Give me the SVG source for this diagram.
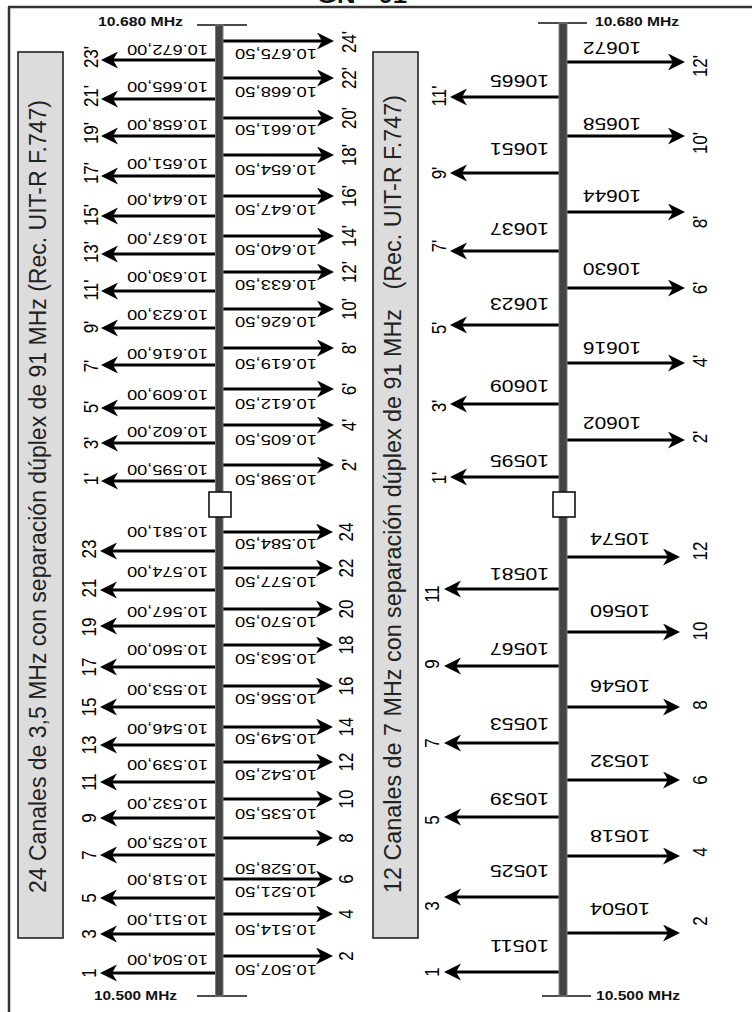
<svg xmlns="http://www.w3.org/2000/svg" width="752" height="1012" viewBox="0 0 752 1012">
<style>
.arr{stroke:#000;stroke-width:3;fill:none;marker-end:url(#ah)}
.fl{font-family:"Liberation Sans",Arial,sans-serif;font-size:15px;fill:#000}
.fr{font-family:"Liberation Sans",Arial,sans-serif;font-size:17px;fill:#000}
.ch{font-family:"Liberation Sans",Arial,sans-serif;font-size:17px;fill:#000;text-anchor:middle}
.ax{font-family:"Liberation Sans",Arial,sans-serif;font-size:12.5px;font-weight:bold;fill:#111}
.tt{font-family:"Liberation Sans",Arial,sans-serif;font-size:23px;fill:#222}
.bar{fill:#444;stroke:#7a7a7a;stroke-width:1}
.tick{stroke:#111;stroke-width:1.6}
.sq{fill:#fff;stroke:#111;stroke-width:1.6}
.tbox{fill:#dcdcdc;stroke:#222;stroke-width:1.6}
</style>
<defs>
<marker id="ah" markerUnits="userSpaceOnUse" viewBox="0 0 20 20" markerWidth="20" markerHeight="20" refX="9" refY="8.5" orient="auto">
<path d="M0,0 L17,8.5 L0,17 L5,8.5 Z" fill="#000"/>
</marker>
</defs>
<rect width="752" height="1012" fill="#fff"/>
<g id="frame">
<line x1="8" y1="7" x2="752" y2="7" stroke="#333" stroke-width="2.5"/>
<line x1="9" y1="7" x2="9" y2="1012" stroke="#333" stroke-width="2.5"/>
<text x="317" y="3" class="ax" style="font-size:22px" textLength="90" lengthAdjust="spacingAndGlyphs">GN - 01</text>
</g>
<g id="title-left">
<rect class="tbox" x="18" y="52" width="45" height="886"/>
<text class="tt" transform="translate(46,893) rotate(-90)" textLength="793" lengthAdjust="spacingAndGlyphs">24 Canales de 3,5 MHz con separación dúplex de 91 MHz (Rec. UIT-R F.747)</text>
</g>
<g id="title-right">
<rect class="tbox" x="373" y="52" width="45" height="886"/>
<text class="tt" xml:space="preserve" transform="translate(401,893) rotate(-90)" textLength="798" lengthAdjust="spacingAndGlyphs">12 Canales de 7 MHz con separación dúplex de 91 MHz   (Rec. UIT-R F.747)</text>
</g>
<g id="connectors">
<line class="arr" x1="219" y1="41" x2="326" y2="41"/>
<line class="arr" x1="219" y1="78" x2="326" y2="78"/>
<line class="arr" x1="219" y1="118" x2="326" y2="118"/>
<line class="arr" x1="219" y1="155" x2="326" y2="155"/>
<line class="arr" x1="219" y1="196" x2="326" y2="196"/>
<line class="arr" x1="219" y1="236" x2="326" y2="236"/>
<line class="arr" x1="219" y1="272" x2="326" y2="272"/>
<line class="arr" x1="219" y1="309" x2="326" y2="309"/>
<line class="arr" x1="219" y1="348" x2="326" y2="348"/>
<line class="arr" x1="219" y1="389" x2="326" y2="389"/>
<line class="arr" x1="219" y1="425" x2="326" y2="425"/>
<line class="arr" x1="219" y1="465" x2="326" y2="465"/>
<line class="arr" x1="219" y1="60" x2="109" y2="60"/>
<line class="arr" x1="219" y1="99" x2="109" y2="99"/>
<line class="arr" x1="219" y1="136" x2="109" y2="136"/>
<line class="arr" x1="219" y1="176" x2="109" y2="176"/>
<line class="arr" x1="219" y1="216" x2="109" y2="216"/>
<line class="arr" x1="219" y1="254" x2="109" y2="254"/>
<line class="arr" x1="219" y1="291" x2="109" y2="291"/>
<line class="arr" x1="219" y1="328" x2="109" y2="328"/>
<line class="arr" x1="219" y1="365" x2="109" y2="365"/>
<line class="arr" x1="219" y1="408" x2="109" y2="408"/>
<line class="arr" x1="219" y1="443" x2="109" y2="443"/>
<line class="arr" x1="219" y1="481" x2="109" y2="481"/>
<line class="arr" x1="219" y1="532" x2="325" y2="532"/>
<line class="arr" x1="219" y1="568" x2="325" y2="568"/>
<line class="arr" x1="219" y1="609" x2="325" y2="609"/>
<line class="arr" x1="219" y1="645" x2="325" y2="645"/>
<line class="arr" x1="219" y1="686" x2="325" y2="686"/>
<line class="arr" x1="219" y1="727" x2="325" y2="727"/>
<line class="arr" x1="219" y1="762" x2="325" y2="762"/>
<line class="arr" x1="219" y1="799" x2="325" y2="799"/>
<line class="arr" x1="219" y1="838" x2="325" y2="838"/>
<line class="arr" x1="219" y1="879" x2="325" y2="879"/>
<line class="arr" x1="219" y1="914" x2="325" y2="914"/>
<line class="arr" x1="219" y1="956" x2="325" y2="956"/>
<line class="arr" x1="219" y1="551" x2="108" y2="551"/>
<line class="arr" x1="219" y1="590" x2="108" y2="590"/>
<line class="arr" x1="219" y1="626" x2="108" y2="626"/>
<line class="arr" x1="219" y1="667" x2="108" y2="667"/>
<line class="arr" x1="219" y1="707" x2="108" y2="707"/>
<line class="arr" x1="219" y1="745" x2="108" y2="745"/>
<line class="arr" x1="219" y1="782" x2="108" y2="782"/>
<line class="arr" x1="219" y1="818" x2="108" y2="818"/>
<line class="arr" x1="219" y1="855" x2="108" y2="855"/>
<line class="arr" x1="219" y1="898" x2="108" y2="898"/>
<line class="arr" x1="219" y1="934" x2="108" y2="934"/>
<line class="arr" x1="219" y1="973" x2="108" y2="973"/>
<line class="arr" x1="563" y1="62" x2="677" y2="62"/>
<line class="arr" x1="563" y1="136" x2="677" y2="136"/>
<line class="arr" x1="563" y1="212" x2="677" y2="212"/>
<line class="arr" x1="563" y1="288" x2="677" y2="288"/>
<line class="arr" x1="563" y1="363" x2="677" y2="363"/>
<line class="arr" x1="563" y1="440" x2="677" y2="440"/>
<line class="arr" x1="563" y1="97" x2="458" y2="97"/>
<line class="arr" x1="563" y1="173" x2="458" y2="173"/>
<line class="arr" x1="563" y1="251" x2="458" y2="251"/>
<line class="arr" x1="563" y1="325" x2="458" y2="325"/>
<line class="arr" x1="563" y1="404" x2="458" y2="404"/>
<line class="arr" x1="563" y1="477" x2="458" y2="477"/>
<line class="arr" x1="563" y1="557" x2="672" y2="557"/>
<line class="arr" x1="563" y1="632" x2="672" y2="632"/>
<line class="arr" x1="563" y1="707" x2="672" y2="707"/>
<line class="arr" x1="563" y1="780" x2="672" y2="780"/>
<line class="arr" x1="563" y1="856" x2="672" y2="856"/>
<line class="arr" x1="563" y1="933" x2="672" y2="933"/>
<line class="arr" x1="563" y1="589" x2="452" y2="589"/>
<line class="arr" x1="563" y1="666" x2="452" y2="666"/>
<line class="arr" x1="563" y1="743" x2="452" y2="743"/>
<line class="arr" x1="563" y1="817" x2="452" y2="817"/>
<line class="arr" x1="563" y1="897" x2="452" y2="897"/>
<line class="arr" x1="563" y1="972" x2="452" y2="972"/>
</g>
<g id="axis-left">
<line class="tick" x1="197" y1="25" x2="247" y2="25"/>
<line class="tick" x1="197" y1="996" x2="247" y2="996"/>
<rect class="bar" x="215.5" y="25" width="7.5" height="971"/>
<rect class="sq" x="209" y="492" width="22" height="25"/>
<text class="ax" x="98" y="26" textLength="85" lengthAdjust="spacingAndGlyphs">10.680 MHz</text>
<text class="ax" x="94" y="1000" textLength="83" lengthAdjust="spacingAndGlyphs">10.500 MHz</text>
</g>
<g id="axis-right">
<line class="tick" x1="538" y1="23" x2="587" y2="23"/>
<line class="tick" x1="542" y1="996" x2="591" y2="996"/>
<rect class="bar" x="559" y="23" width="8" height="973"/>
<rect class="sq" x="553" y="492" width="22" height="25"/>
<text class="ax" x="595" y="26" textLength="84" lengthAdjust="spacingAndGlyphs">10.680 MHz</text>
<text class="ax" x="596" y="1000" textLength="84" lengthAdjust="spacingAndGlyphs">10.500 MHz</text>
</g>
<g id="freq-left">
<text class="fl" x="317" y="49" transform="rotate(180 317 49)" textLength="82" lengthAdjust="spacingAndGlyphs">10.675,50</text>
<text class="fl" x="317" y="87" transform="rotate(180 317 87)" textLength="82" lengthAdjust="spacingAndGlyphs">10.668,50</text>
<text class="fl" x="317" y="125" transform="rotate(180 317 125)" textLength="82" lengthAdjust="spacingAndGlyphs">10.661,50</text>
<text class="fl" x="317" y="165" transform="rotate(180 317 165)" textLength="82" lengthAdjust="spacingAndGlyphs">10.654,50</text>
<text class="fl" x="317" y="205" transform="rotate(180 317 205)" textLength="82" lengthAdjust="spacingAndGlyphs">10.647,50</text>
<text class="fl" x="317" y="245" transform="rotate(180 317 245)" textLength="82" lengthAdjust="spacingAndGlyphs">10.640,50</text>
<text class="fl" x="317" y="280" transform="rotate(180 317 280)" textLength="82" lengthAdjust="spacingAndGlyphs">10.633,50</text>
<text class="fl" x="317" y="317" transform="rotate(180 317 317)" textLength="82" lengthAdjust="spacingAndGlyphs">10.626,50</text>
<text class="fl" x="317" y="359" transform="rotate(180 317 359)" textLength="82" lengthAdjust="spacingAndGlyphs">10.619,50</text>
<text class="fl" x="317" y="399" transform="rotate(180 317 399)" textLength="82" lengthAdjust="spacingAndGlyphs">10.612,50</text>
<text class="fl" x="317" y="435" transform="rotate(180 317 435)" textLength="82" lengthAdjust="spacingAndGlyphs">10.605,50</text>
<text class="fl" x="317" y="475" transform="rotate(180 317 475)" textLength="82" lengthAdjust="spacingAndGlyphs">10.598,50</text>
<text class="fl" x="208" y="45" transform="rotate(180 208 45)" textLength="81" lengthAdjust="spacingAndGlyphs">10.672,00</text>
<text class="fl" x="208" y="82" transform="rotate(180 208 82)" textLength="81" lengthAdjust="spacingAndGlyphs">10.665,00</text>
<text class="fl" x="208" y="120" transform="rotate(180 208 120)" textLength="81" lengthAdjust="spacingAndGlyphs">10.658,00</text>
<text class="fl" x="208" y="159" transform="rotate(180 208 159)" textLength="81" lengthAdjust="spacingAndGlyphs">10.651,00</text>
<text class="fl" x="208" y="195" transform="rotate(180 208 195)" textLength="81" lengthAdjust="spacingAndGlyphs">10.644,00</text>
<text class="fl" x="208" y="234" transform="rotate(180 208 234)" textLength="81" lengthAdjust="spacingAndGlyphs">10.637,00</text>
<text class="fl" x="208" y="272" transform="rotate(180 208 272)" textLength="81" lengthAdjust="spacingAndGlyphs">10.630,00</text>
<text class="fl" x="208" y="310" transform="rotate(180 208 310)" textLength="81" lengthAdjust="spacingAndGlyphs">10.623,00</text>
<text class="fl" x="208" y="349" transform="rotate(180 208 349)" textLength="81" lengthAdjust="spacingAndGlyphs">10.616,00</text>
<text class="fl" x="208" y="390" transform="rotate(180 208 390)" textLength="81" lengthAdjust="spacingAndGlyphs">10.609,00</text>
<text class="fl" x="208" y="427" transform="rotate(180 208 427)" textLength="81" lengthAdjust="spacingAndGlyphs">10.602,00</text>
<text class="fl" x="208" y="465" transform="rotate(180 208 465)" textLength="81" lengthAdjust="spacingAndGlyphs">10.595,00</text>
<text class="fl" x="317" y="539" transform="rotate(180 317 539)" textLength="82" lengthAdjust="spacingAndGlyphs">10.584,50</text>
<text class="fl" x="317" y="577" transform="rotate(180 317 577)" textLength="82" lengthAdjust="spacingAndGlyphs">10.577,50</text>
<text class="fl" x="317" y="617" transform="rotate(180 317 617)" textLength="82" lengthAdjust="spacingAndGlyphs">10.570,50</text>
<text class="fl" x="317" y="654" transform="rotate(180 317 654)" textLength="82" lengthAdjust="spacingAndGlyphs">10.563,50</text>
<text class="fl" x="317" y="694" transform="rotate(180 317 694)" textLength="82" lengthAdjust="spacingAndGlyphs">10.556,50</text>
<text class="fl" x="317" y="734" transform="rotate(180 317 734)" textLength="82" lengthAdjust="spacingAndGlyphs">10.549,50</text>
<text class="fl" x="317" y="770" transform="rotate(180 317 770)" textLength="82" lengthAdjust="spacingAndGlyphs">10.542,50</text>
<text class="fl" x="317" y="809" transform="rotate(180 317 809)" textLength="82" lengthAdjust="spacingAndGlyphs">10.535,50</text>
<text class="fl" x="317" y="864" transform="rotate(180 317 864)" textLength="82" lengthAdjust="spacingAndGlyphs">10.528,50</text>
<text class="fl" x="317" y="887" transform="rotate(180 317 887)" textLength="82" lengthAdjust="spacingAndGlyphs">10.521,50</text>
<text class="fl" x="317" y="925" transform="rotate(180 317 925)" textLength="82" lengthAdjust="spacingAndGlyphs">10.514,50</text>
<text class="fl" x="317" y="965" transform="rotate(180 317 965)" textLength="82" lengthAdjust="spacingAndGlyphs">10.507,50</text>
<text class="fl" x="208" y="527" transform="rotate(180 208 527)" textLength="81" lengthAdjust="spacingAndGlyphs">10.581,00</text>
<text class="fl" x="208" y="567" transform="rotate(180 208 567)" textLength="81" lengthAdjust="spacingAndGlyphs">10.574,00</text>
<text class="fl" x="208" y="607" transform="rotate(180 208 607)" textLength="81" lengthAdjust="spacingAndGlyphs">10.567,00</text>
<text class="fl" x="208" y="645" transform="rotate(180 208 645)" textLength="81" lengthAdjust="spacingAndGlyphs">10.560,00</text>
<text class="fl" x="208" y="685" transform="rotate(180 208 685)" textLength="81" lengthAdjust="spacingAndGlyphs">10.553,00</text>
<text class="fl" x="208" y="724" transform="rotate(180 208 724)" textLength="81" lengthAdjust="spacingAndGlyphs">10.546,00</text>
<text class="fl" x="208" y="760" transform="rotate(180 208 760)" textLength="81" lengthAdjust="spacingAndGlyphs">10.539,00</text>
<text class="fl" x="208" y="799" transform="rotate(180 208 799)" textLength="81" lengthAdjust="spacingAndGlyphs">10.532,00</text>
<text class="fl" x="208" y="838" transform="rotate(180 208 838)" textLength="81" lengthAdjust="spacingAndGlyphs">10.525,00</text>
<text class="fl" x="208" y="875" transform="rotate(180 208 875)" textLength="81" lengthAdjust="spacingAndGlyphs">10.518,00</text>
<text class="fl" x="208" y="915" transform="rotate(180 208 915)" textLength="81" lengthAdjust="spacingAndGlyphs">10.511,00</text>
<text class="fl" x="208" y="955" transform="rotate(180 208 955)" textLength="81" lengthAdjust="spacingAndGlyphs">10.504,00</text>
</g>
<g id="chan-left">
<text class="ch" transform="translate(98,57) scale(1.2,1) rotate(-90)">23'</text>
<text class="ch" transform="translate(98,96) scale(1.2,1) rotate(-90)">21'</text>
<text class="ch" transform="translate(98,133) scale(1.2,1) rotate(-90)">19'</text>
<text class="ch" transform="translate(98,173) scale(1.2,1) rotate(-90)">17'</text>
<text class="ch" transform="translate(98,215) scale(1.2,1) rotate(-90)">15'</text>
<text class="ch" transform="translate(98,252) scale(1.2,1) rotate(-90)">13'</text>
<text class="ch" transform="translate(98,290) scale(1.2,1) rotate(-90)">11'</text>
<text class="ch" transform="translate(98,327) scale(1.2,1) rotate(-90)">9'</text>
<text class="ch" transform="translate(98,366) scale(1.2,1) rotate(-90)">7'</text>
<text class="ch" transform="translate(98,407) scale(1.2,1) rotate(-90)">5'</text>
<text class="ch" transform="translate(98,443) scale(1.2,1) rotate(-90)">3'</text>
<text class="ch" transform="translate(98,479) scale(1.2,1) rotate(-90)">1'</text>
<text class="ch" transform="translate(96,549) scale(1.2,1) rotate(-90)">23</text>
<text class="ch" transform="translate(96,588) scale(1.2,1) rotate(-90)">21</text>
<text class="ch" transform="translate(96,627) scale(1.2,1) rotate(-90)">19</text>
<text class="ch" transform="translate(96,667) scale(1.2,1) rotate(-90)">17</text>
<text class="ch" transform="translate(96,707) scale(1.2,1) rotate(-90)">15</text>
<text class="ch" transform="translate(96,745) scale(1.2,1) rotate(-90)">13</text>
<text class="ch" transform="translate(96,782) scale(1.2,1) rotate(-90)">11</text>
<text class="ch" transform="translate(96,818) scale(1.2,1) rotate(-90)">9</text>
<text class="ch" transform="translate(96,855) scale(1.2,1) rotate(-90)">7</text>
<text class="ch" transform="translate(96,898) scale(1.2,1) rotate(-90)">5</text>
<text class="ch" transform="translate(96,934) scale(1.2,1) rotate(-90)">3</text>
<text class="ch" transform="translate(96,973) scale(1.2,1) rotate(-90)">1</text>
<text class="ch" transform="translate(356,42) scale(1.2,1) rotate(-90)">24'</text>
<text class="ch" transform="translate(356,78) scale(1.2,1) rotate(-90)">22'</text>
<text class="ch" transform="translate(356,118) scale(1.2,1) rotate(-90)">20'</text>
<text class="ch" transform="translate(356,155) scale(1.2,1) rotate(-90)">18'</text>
<text class="ch" transform="translate(356,196) scale(1.2,1) rotate(-90)">16'</text>
<text class="ch" transform="translate(356,236) scale(1.2,1) rotate(-90)">14'</text>
<text class="ch" transform="translate(356,272) scale(1.2,1) rotate(-90)">12'</text>
<text class="ch" transform="translate(356,309) scale(1.2,1) rotate(-90)">10'</text>
<text class="ch" transform="translate(356,348) scale(1.2,1) rotate(-90)">8'</text>
<text class="ch" transform="translate(356,389) scale(1.2,1) rotate(-90)">6'</text>
<text class="ch" transform="translate(356,425) scale(1.2,1) rotate(-90)">4'</text>
<text class="ch" transform="translate(356,465) scale(1.2,1) rotate(-90)">2'</text>
<text class="ch" transform="translate(353,532) scale(1.2,1) rotate(-90)">24</text>
<text class="ch" transform="translate(353,568) scale(1.2,1) rotate(-90)">22</text>
<text class="ch" transform="translate(353,609) scale(1.2,1) rotate(-90)">20</text>
<text class="ch" transform="translate(353,645) scale(1.2,1) rotate(-90)">18</text>
<text class="ch" transform="translate(353,686) scale(1.2,1) rotate(-90)">16</text>
<text class="ch" transform="translate(353,727) scale(1.2,1) rotate(-90)">14</text>
<text class="ch" transform="translate(353,762) scale(1.2,1) rotate(-90)">12</text>
<text class="ch" transform="translate(353,799) scale(1.2,1) rotate(-90)">10</text>
<text class="ch" transform="translate(353,838) scale(1.2,1) rotate(-90)">8</text>
<text class="ch" transform="translate(353,879) scale(1.2,1) rotate(-90)">6</text>
<text class="ch" transform="translate(353,914) scale(1.2,1) rotate(-90)">4</text>
<text class="ch" transform="translate(353,956) scale(1.2,1) rotate(-90)">2</text>
</g>
<g id="freq-right">
<text class="fr" x="641" y="42" transform="rotate(180 641 42)" textLength="58" lengthAdjust="spacingAndGlyphs">10672</text>
<text class="fr" x="641" y="118" transform="rotate(180 641 118)" textLength="58" lengthAdjust="spacingAndGlyphs">10658</text>
<text class="fr" x="641" y="190" transform="rotate(180 641 190)" textLength="58" lengthAdjust="spacingAndGlyphs">10644</text>
<text class="fr" x="641" y="263" transform="rotate(180 641 263)" textLength="58" lengthAdjust="spacingAndGlyphs">10630</text>
<text class="fr" x="641" y="342" transform="rotate(180 641 342)" textLength="58" lengthAdjust="spacingAndGlyphs">10616</text>
<text class="fr" x="641" y="417" transform="rotate(180 641 417)" textLength="58" lengthAdjust="spacingAndGlyphs">10602</text>
<text class="fr" x="549" y="75" transform="rotate(180 549 75)" textLength="59" lengthAdjust="spacingAndGlyphs">10665</text>
<text class="fr" x="549" y="143" transform="rotate(180 549 143)" textLength="59" lengthAdjust="spacingAndGlyphs">10651</text>
<text class="fr" x="549" y="223" transform="rotate(180 549 223)" textLength="59" lengthAdjust="spacingAndGlyphs">10637</text>
<text class="fr" x="549" y="298" transform="rotate(180 549 298)" textLength="59" lengthAdjust="spacingAndGlyphs">10623</text>
<text class="fr" x="549" y="380" transform="rotate(180 549 380)" textLength="59" lengthAdjust="spacingAndGlyphs">10609</text>
<text class="fr" x="549" y="455" transform="rotate(180 549 455)" textLength="59" lengthAdjust="spacingAndGlyphs">10595</text>
<text class="fr" x="650" y="533" transform="rotate(180 650 533)" textLength="60" lengthAdjust="spacingAndGlyphs">10574</text>
<text class="fr" x="650" y="605" transform="rotate(180 650 605)" textLength="60" lengthAdjust="spacingAndGlyphs">10560</text>
<text class="fr" x="650" y="680" transform="rotate(180 650 680)" textLength="60" lengthAdjust="spacingAndGlyphs">10546</text>
<text class="fr" x="650" y="755" transform="rotate(180 650 755)" textLength="60" lengthAdjust="spacingAndGlyphs">10532</text>
<text class="fr" x="650" y="830" transform="rotate(180 650 830)" textLength="60" lengthAdjust="spacingAndGlyphs">10518</text>
<text class="fr" x="650" y="903" transform="rotate(180 650 903)" textLength="60" lengthAdjust="spacingAndGlyphs">10504</text>
<text class="fr" x="549" y="568" transform="rotate(180 549 568)" textLength="59" lengthAdjust="spacingAndGlyphs">10581</text>
<text class="fr" x="549" y="643" transform="rotate(180 549 643)" textLength="59" lengthAdjust="spacingAndGlyphs">10567</text>
<text class="fr" x="549" y="718" transform="rotate(180 549 718)" textLength="59" lengthAdjust="spacingAndGlyphs">10553</text>
<text class="fr" x="549" y="793" transform="rotate(180 549 793)" textLength="59" lengthAdjust="spacingAndGlyphs">10539</text>
<text class="fr" x="549" y="865" transform="rotate(180 549 865)" textLength="59" lengthAdjust="spacingAndGlyphs">10525</text>
<text class="fr" x="549" y="940" transform="rotate(180 549 940)" textLength="59" lengthAdjust="spacingAndGlyphs">10511</text>
</g>
<g id="chan-right">
<text class="ch" transform="translate(707,66) scale(1.2,1) rotate(-90)">12'</text>
<text class="ch" transform="translate(707,143) scale(1.2,1) rotate(-90)">10'</text>
<text class="ch" transform="translate(707,222) scale(1.2,1) rotate(-90)">8'</text>
<text class="ch" transform="translate(707,288) scale(1.2,1) rotate(-90)">6'</text>
<text class="ch" transform="translate(707,361) scale(1.2,1) rotate(-90)">4'</text>
<text class="ch" transform="translate(707,437) scale(1.2,1) rotate(-90)">2'</text>
<text class="ch" transform="translate(446,96) scale(1.2,1) rotate(-90)">11'</text>
<text class="ch" transform="translate(446,173) scale(1.2,1) rotate(-90)">9'</text>
<text class="ch" transform="translate(446,246) scale(1.2,1) rotate(-90)">7'</text>
<text class="ch" transform="translate(446,328) scale(1.2,1) rotate(-90)">5'</text>
<text class="ch" transform="translate(446,406) scale(1.2,1) rotate(-90)">3'</text>
<text class="ch" transform="translate(446,478) scale(1.2,1) rotate(-90)">1'</text>
<text class="ch" transform="translate(707,551) scale(1.2,1) rotate(-90)">12</text>
<text class="ch" transform="translate(707,631) scale(1.2,1) rotate(-90)">10</text>
<text class="ch" transform="translate(707,705) scale(1.2,1) rotate(-90)">8</text>
<text class="ch" transform="translate(707,780) scale(1.2,1) rotate(-90)">6</text>
<text class="ch" transform="translate(707,852) scale(1.2,1) rotate(-90)">4</text>
<text class="ch" transform="translate(707,921) scale(1.2,1) rotate(-90)">2</text>
<text class="ch" transform="translate(439,594) scale(1.2,1) rotate(-90)">11</text>
<text class="ch" transform="translate(439,664) scale(1.2,1) rotate(-90)">9</text>
<text class="ch" transform="translate(439,743) scale(1.2,1) rotate(-90)">7</text>
<text class="ch" transform="translate(439,820) scale(1.2,1) rotate(-90)">5</text>
<text class="ch" transform="translate(439,906) scale(1.2,1) rotate(-90)">3</text>
<text class="ch" transform="translate(439,972) scale(1.2,1) rotate(-90)">1</text>
</g>
</svg>
